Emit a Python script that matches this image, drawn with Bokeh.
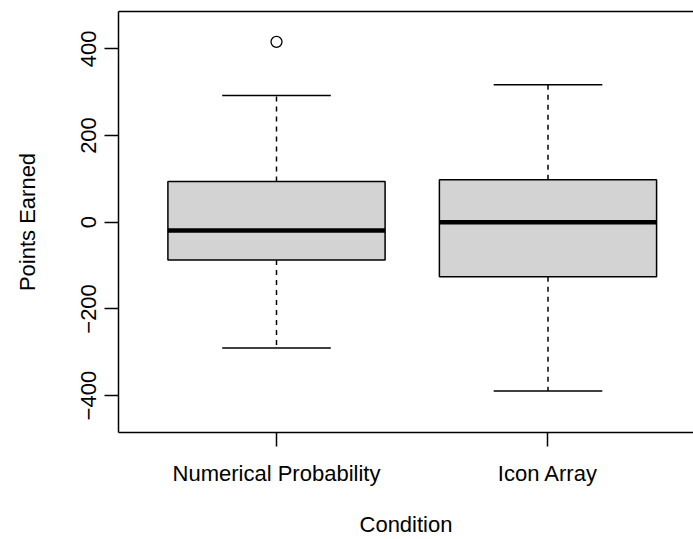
from bokeh.plotting import figure
from bokeh.models import Range1d, FixedTicker, LinearAxis, ColumnDataSource
from bokeh.embed import file_html
from bokeh.resources import INLINE

# ---- data ----
categories = ["Numerical Probability", "Icon Array"]
q1 = [-87, -126]
medians = [-19, 0]
q3 = [94, 98]
lower_whisker = [-290, -389]
upper_whisker = [292, 317]
outlier_groups = ["Numerical Probability"]
outlier_values = [416]
y_ticks = [-400, -200, 0, 200, 400]

FONT = "Liberation Sans"
FS = "22px"

pos = [i + 1 for i in range(len(categories))]
bw = 0.8
cw = 0.4

src = ColumnDataSource(dict(
    x=pos,
    left=[p_ - bw / 2 for p_ in pos],
    right=[p_ + bw / 2 for p_ in pos],
    cl=[p_ - cw / 2 for p_ in pos],
    cr=[p_ + cw / 2 for p_ in pos],
    q1=q1, q3=q3, med=medians, lo=lower_whisker, hi=upper_whisker,
))
osrc = ColumnDataSource(dict(
    x=[pos[categories.index(g)] for g in outlier_groups],
    y=outlier_values,
))

p = figure(width=693, height=539,
           x_range=Range1d(0.418, 2.536), y_range=Range1d(-485, 486),
           output_backend="svg", toolbar_location=None,
           min_border_left=118, min_border_right=0,
           min_border_top=11, min_border_bottom=107,
           background_fill_color="white", border_fill_color="white")
p.outline_line_color = None
p.xgrid.visible = False
p.ygrid.visible = False

LW = 1.5
# whiskers
p.segment(x0="x", y0="q3", x1="x", y1="hi", source=src, line_color="black",
          line_width=LW, line_dash="5 5")
p.segment(x0="x", y0="q1", x1="x", y1="lo", source=src, line_color="black",
          line_width=LW, line_dash="5 5")
# caps
p.segment(x0="cl", y0="hi", x1="cr", y1="hi", source=src, line_color="black", line_width=LW)
p.segment(x0="cl", y0="lo", x1="cr", y1="lo", source=src, line_color="black", line_width=LW)
# boxes
p.quad(left="left", right="right", bottom="q1", top="q3", source=src,
       fill_color="#D3D3D3", line_color="black", line_width=LW)
# medians
p.segment(x0="left", y0="med", x1="right", y1="med", source=src,
          line_color="black", line_width=4.5)
# outliers
p.scatter(x="x", y="y", source=osrc, size=11, marker="circle",
          fill_color=None, line_color="black", line_width=1.3)

# axes
xa = p.xaxis[0]
xa.ticker = FixedTicker(ticks=pos)
xa.major_label_overrides = {p_: c for p_, c in zip(pos, categories)}
xa.axis_label = "Condition"
ya = p.yaxis[0]
ya.ticker = FixedTicker(ticks=y_ticks)
ya.major_label_overrides = {t: (str(t).replace("-", "\u2212")) for t in y_ticks}
ya.axis_label = "Points Earned"
ya.major_label_orientation = "vertical"

for ax in (xa, ya):
    ax.axis_line_color = "black"
    ax.axis_line_width = LW
    ax.major_tick_line_color = "black"
    ax.major_tick_line_width = LW
    ax.major_tick_out = 14
    ax.major_tick_in = 0
    ax.minor_tick_out = 0
    ax.minor_tick_in = 0
    ax.major_label_text_font = FONT
    ax.major_label_text_font_size = FS
    ax.major_label_text_color = "black"
    ax.axis_label_text_font = FONT
    ax.axis_label_text_font_size = FS
    ax.axis_label_text_font_style = "normal"
    ax.axis_label_text_color = "black"

xa.major_label_standoff = 14
xa.axis_label_standoff = 23
ya.major_label_standoff = 8
ya.axis_label_standoff = 39

top = LinearAxis(ticker=FixedTicker(ticks=[]), major_label_text_font_size="0px",
                 major_tick_out=0, major_tick_in=0, minor_tick_out=0, minor_tick_in=0,
                 axis_line_color="black", axis_line_width=LW)
p.add_layout(top, "above")

open("out.html", "w").write(file_html(p, INLINE))
